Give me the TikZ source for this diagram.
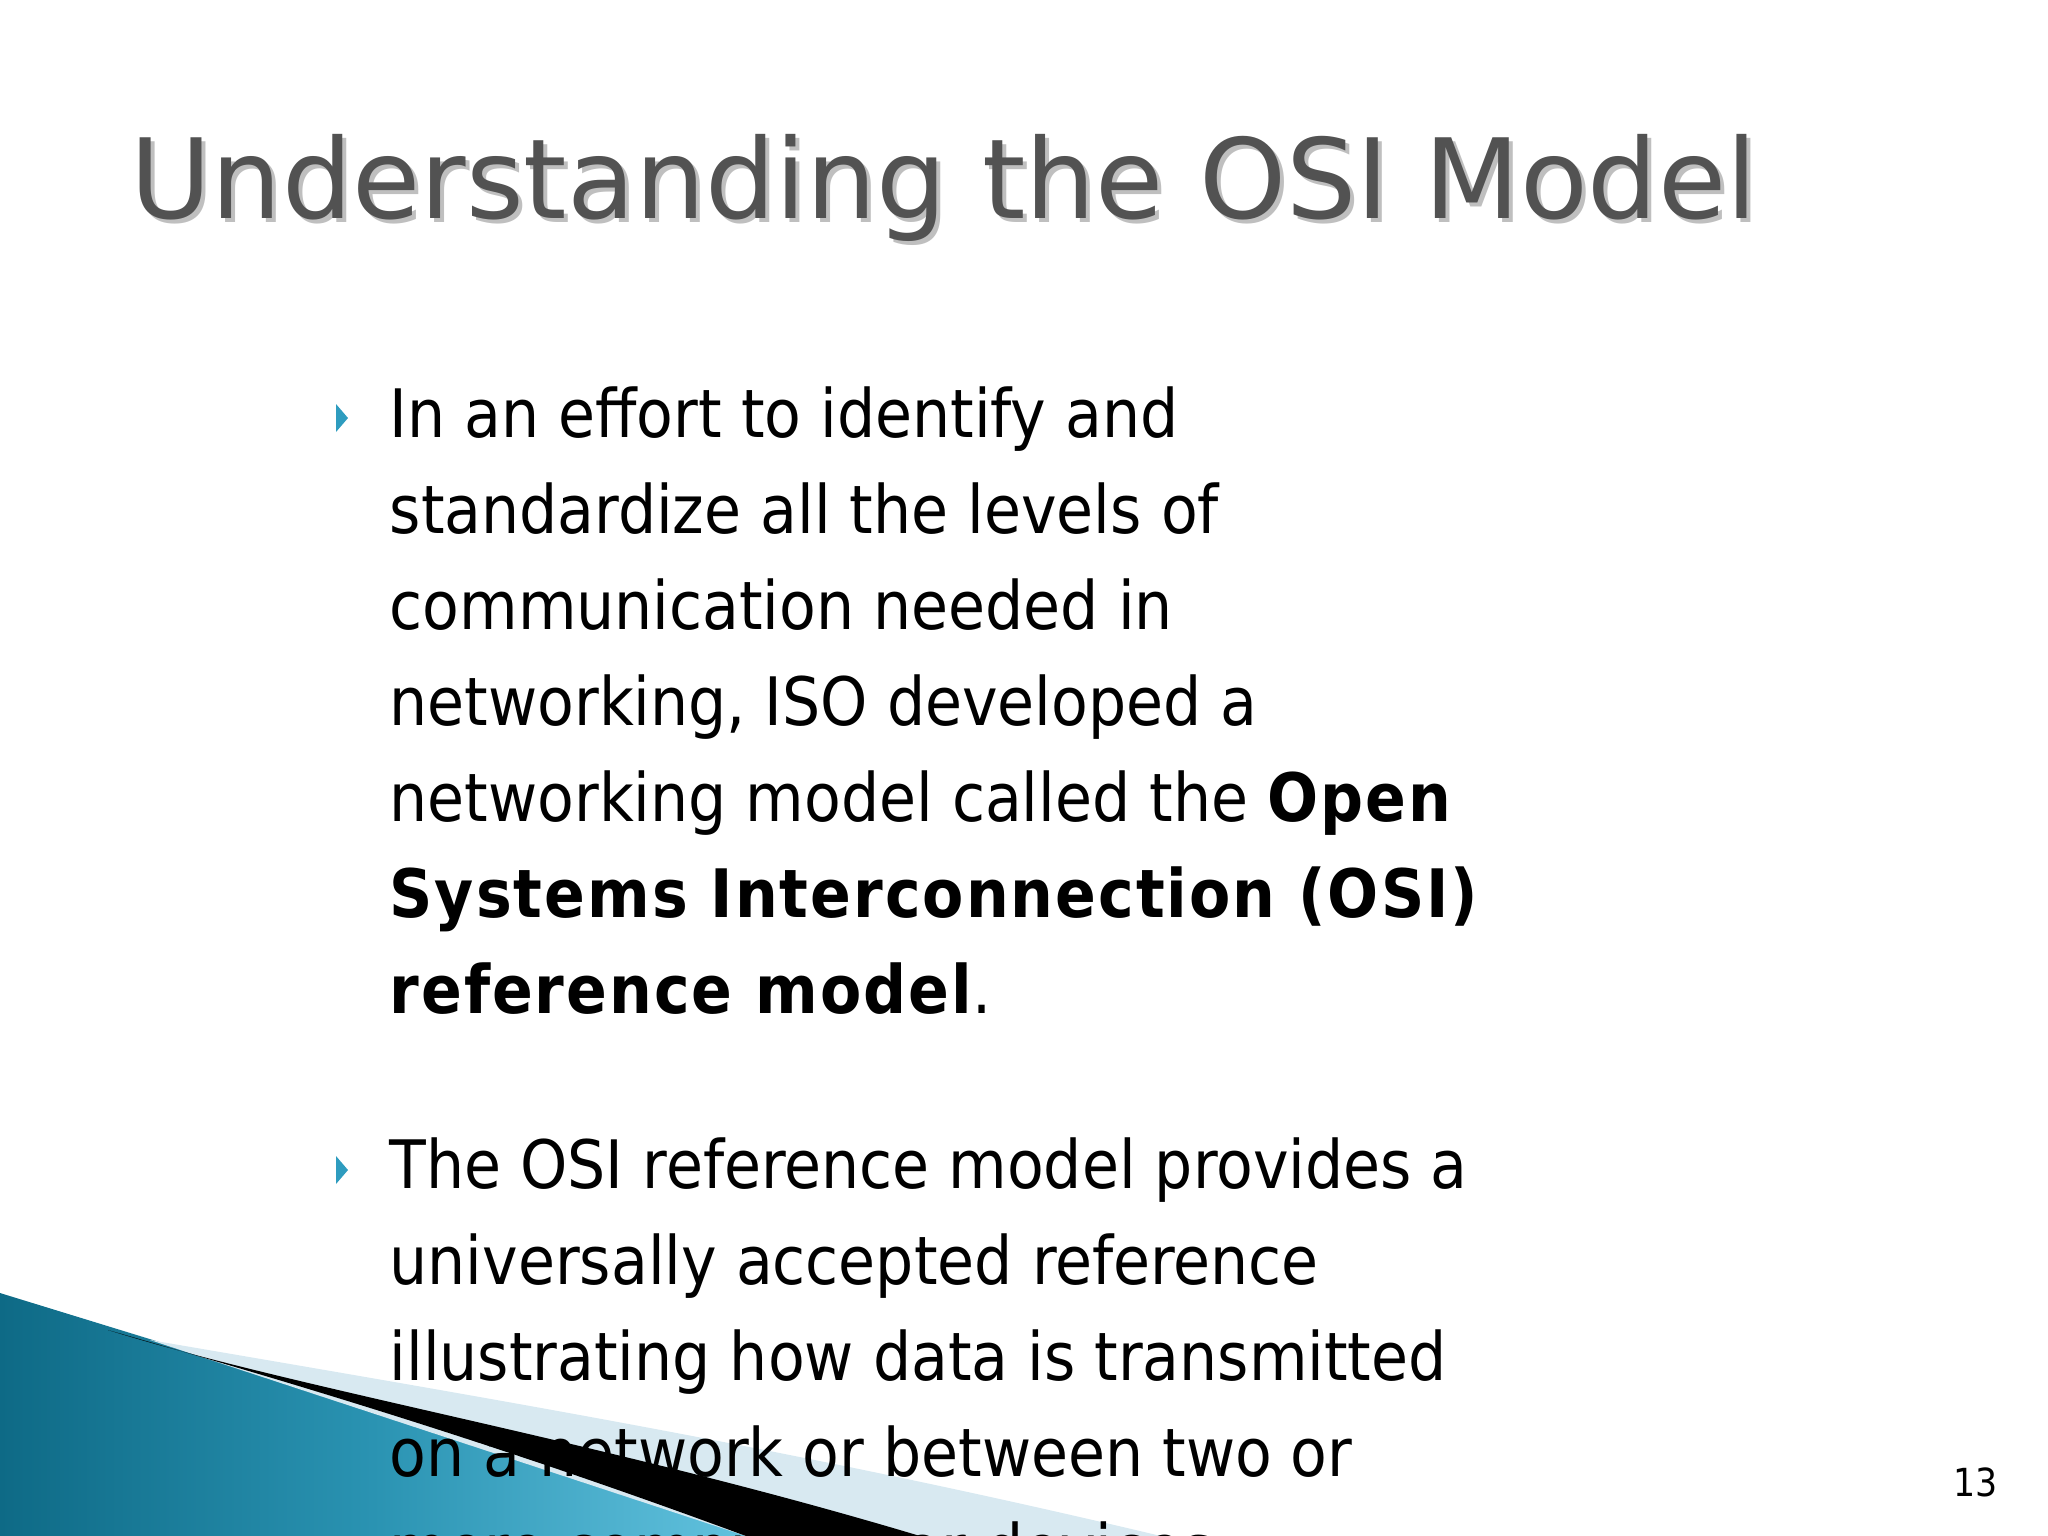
\documentclass[tikz,border=0pt]{standalone}
\usepackage{fontspec}
\setmainfont{DejaVu Sans Condensed}
\newfontfamily\titlefont{DejaVu Sans}
\definecolor{tealdark}{HTML}{0E6A86}
\definecolor{teallight}{HTML}{62C2DE}
\definecolor{tealmid}{HTML}{2A93B2}
\definecolor{swoosh}{HTML}{D8E9F1}
\definecolor{bulc}{HTML}{2E9CBF}
\begin{document}
\begin{tikzpicture}[x=0.01cm,y=-0.01cm,
  line/.style={anchor=base west,inner sep=0pt,font=\fontsize{19}{20}\selectfont},
  bul/.style={fill=bulc,draw=none}]
\useasboundingbox (0,0) rectangle (2048,1536);
\clip (0,0) rectangle (2048,1536);
% blue shape
\shade[left color=tealdark, right color=teallight, middle color=tealmid]
  (0,1293) .. controls (250,1370) and (500,1445) .. (746,1536) -- (0,1536) -- cycle;
% light swoosh
\fill[swoosh] (150,1340) .. controls (500,1400) and (800,1450) .. (1161,1536) -- (746,1536) -- cycle;
% title
\node[anchor=base west,inner sep=0pt,text=black!25,font=\titlefont\fontsize{31.5}{40}\selectfont] at (134,222) {Understanding the OSI Model};
\node[anchor=base west,inner sep=0pt,text=black!68,font=\titlefont\fontsize{31.5}{40}\selectfont] (title) at (130,218) {Understanding the OSI Model};
% bullets
\fill[bul] (336,404) -- (348,418) -- (336,432) -- cycle;
\fill[bul] (336,1156) -- (348,1170) -- (336,1184) -- cycle;
\node[line] (l1) at (389,437) {In an effort to identify and};
\node[line] (l2) at (389,533) {standardize all the levels of};
\node[line] (l3) at (389,629) {communication needed in};
\node[line] (l4) at (389,725) {networking, ISO developed a};
\node[line] (l5) at (389,821) {networking model called the {\bfseries\addfontfeatures{LetterSpace=3}Open}};
\node[line] (l6) at (389,917) {\bfseries\addfontfeatures{LetterSpace=3}Systems Interconnection (OSI)};
\node[line] (l7) at (389,1013) {{\bfseries\addfontfeatures{LetterSpace=3}reference model}.};
\node[line] (m1) at (389,1188) {The OSI reference model provides a};
\node[line] (m2) at (389,1284) {universally accepted reference};
\node[line] (m3) at (389,1380) {illustrating how data is transmitted};
\node[line] (m4) at (389,1476) {on a network or between two or};
\node[line] (m5) at (389,1572) {more computers or devices.};
% black stripe
\fill[black] (108,1330) .. controls (300,1390) and (600,1440) .. (920,1536) -- (746,1536) .. controls (500,1445) and (300,1385) .. (108,1330) -- cycle;
\node[anchor=base east,inner sep=0pt,font=\fontsize{11}{12}\selectfont] (pg) at (1998,1496) {13};
\end{tikzpicture}
\end{document}
